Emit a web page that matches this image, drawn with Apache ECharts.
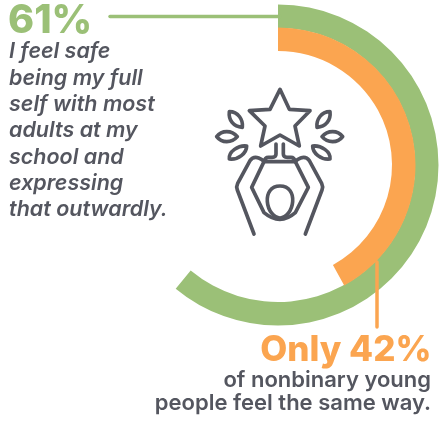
<!DOCTYPE html>
<html>
<head>
<meta charset="utf-8">
<style>html,body{margin:0;padding:0;background:#fff}#chart{width:440px;height:422px}</style>
<script src="https://cdn.jsdelivr.net/npm/echarts@6/dist/echarts.min.js"></script>
</head>
<body>
<div id="chart"></div>
<script>
// Share of young people who feel safe being their full selves at school
const groups = ['All young people', 'Nonbinary young people'];
const safeShare = [61, 42];
const headlineLabels = ['61%', 'Only 42%'];
const leftLines = ['I feel safe', 'being my full', 'self with most', 'adults at my', 'school and', 'expressing', 'that outwardly.'];
const rightLines = ['of nonbinary young', 'people feel the same way.'];

const GREEN = '#9BC077', ORANGE = '#FBA550', GRAY = '#54565F';
const FONT = 'Inter, "Open Sans", sans-serif';
const center = [278, 165];

function ring(name, value, radius, color) {
  return {
    type: 'pie', name, center, radius, startAngle: 90, clockwise: true,
    silent: true, animation: false, label: {show: false}, labelLine: {show: false},
    data: [
      {value, itemStyle: {color}},
      {value: 100 - value, itemStyle: {color: 'transparent'}}
    ]
  };
}

// Icon outlines: a raised pair of arms lifting a star, with leaves either side
const iconPaths = [
  'M240 28 L268 88 L330 92 L285 138 L298 198 L240 165 L182 198 L195 138 L148 92 L210 88 Z',
  'M88 95 C115 95 130 120 127 142 C100 140 85 120 88 95 Z',
  'M390 95 C363 95 348 120 351 142 C378 140 393 120 390 95 Z',
  'M50 170 C65 150 95 150 112 170 C95 190 65 190 50 170 Z',
  'M428 170 C413 150 383 150 366 170 C383 190 413 190 428 170 Z',
  'M88 237 C85 215 115 195 140 198 C140 220 115 240 88 237 Z',
  'M390 237 C393 215 363 195 338 198 C338 220 363 240 390 237 Z',
  'M228 192 L228 222 Q228 232 216 232 L205 232 Q195 232 192 245 L155 322 L192 398 Q240 438 286 398 L325 322 L286 245 Q283 232 273 232 L262 232 Q250 232 250 222 L250 192',
  'M192 245 L286 245',
  'M162 462 L112 330 Q108 320 113 310 L150 242 Q160 228 176 234 Q186 238 192 245',
  'M316 462 L366 330 Q370 320 365 310 L328 242 Q318 228 302 234 Q292 238 286 245',
  'M240 318 C268 318 280 340 278 365 C276 392 258 414 240 414 C222 414 204 392 202 365 C200 340 212 318 240 318 Z'
];

const graphics = [
  {type: 'line', z: 10, shape: {x1: 110, y1: 16.5, x2: 280, y2: 16.5},
   style: {stroke: GREEN, lineWidth: 3.5, lineCap: 'round'}},
  {type: 'line', z: 10, shape: {x1: 377, y1: 262, x2: 377, y2: 327},
   style: {stroke: ORANGE, lineWidth: 3.5, lineCap: 'round'}}
];

// Places a text line by its baseline
function textLine(text, x, baseline, size, weight, fill, align, italic) {
  return {type: 'text', z: 10, style: {
    text, x, y: baseline - size * 0.33, align, verticalAlign: 'middle',
    font: (italic ? 'italic ' : '') + weight + ' ' + size + 'px ' + FONT, fill
  }};
}
graphics.push(textLine(headlineLabels[0], 8, 34, 39.5, 800, GREEN, 'left'));
graphics.push(textLine(headlineLabels[1], 431.5, 362, 35, 800, ORANGE, 'right'));
leftLines.forEach((text, i) => graphics.push(textLine(text, 9, 59 + i * 26.3, 21.5, 600, GRAY, 'left', true)));
rightLines.forEach((text, i) => graphics.push(textLine(text, 431, 388 + i * 23, 22, 600, GRAY, 'right')));

iconPaths.forEach((pathData, i) => {
  echarts.graphic.registerShape('iconPart' + i, echarts.graphic.extendPath(pathData, {}));
  graphics.push({type: 'iconPart' + i, x: 200, y: 80, scaleX: 1 / 3, scaleY: 1 / 3,
    style: {fill: 'none', stroke: GRAY, lineWidth: 11, lineCap: 'round', lineJoin: 'round'}});
});

const chart = echarts.init(document.getElementById('chart'), null, {renderer: 'canvas'});
chart.setOption({
  animation: false,
  backgroundColor: '#fff',
  series: [
    ring(groups[0], safeShare[0], [137, 160.5], GREEN),
    ring(groups[1], safeShare[1], [114, 137.5], ORANGE)
  ],
  graphic: graphics
});
</script>
</body>
</html>
